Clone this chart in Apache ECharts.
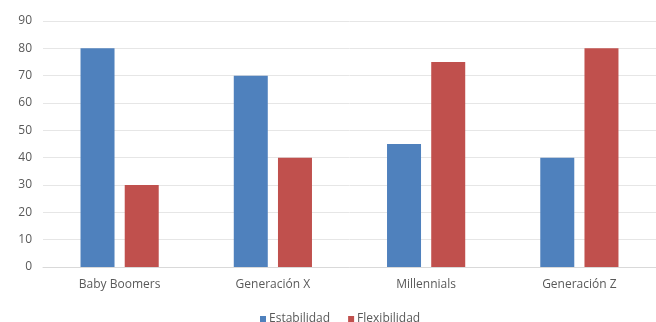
<!DOCTYPE html>
<html>
<head>
<meta charset="utf-8">
<script src="https://cdn.jsdelivr.net/npm/echarts@6/dist/echarts.min.js"></script>
<style>html,body{margin:0;padding:0;background:#fff}#c{width:656px;height:322px}</style>
</head>
<body>
<div id="c"></div>
<script>
const categories = ['Baby Boomers', 'Generación X', 'Millennials', 'Generación Z'];
const estabilidad = [80, 70, 45, 40];
const flexibilidad = [30, 40, 75, 80];
const seriesNames = ['Estabilidad', 'Flexibilidad'];

const chart = echarts.init(document.getElementById('c'), null, {renderer: 'canvas'});
chart.setOption({
  animation: false,
  textStyle: {fontFamily: 'Open Sans'},
  grid: {left: 43, right: 0, top: 21, bottom: 55, containLabel: false},
  legend: {
    data: seriesNames,
    left: 255,
    top: 308,
    itemWidth: 6,
    itemHeight: 6,
    itemGap: 18,
    icon: 'rect',
    textStyle: {fontSize: 12, color: '#595959', fontFamily: 'Open Sans', padding: [0, 0, 0, -2]}
  },
  xAxis: {
    type: 'category',
    data: categories,
    axisTick: {show: false},
    axisLine: {lineStyle: {color: '#d9d9d9'}},
    axisLabel: {color: '#595959', fontSize: 12, margin: 12}
  },
  yAxis: {
    type: 'value',
    min: 0,
    max: 90,
    interval: 10,
    axisLabel: {color: '#595959', fontSize: 12, margin: 11},
    splitLine: {lineStyle: {color: '#e6e6e6'}},
    axisLine: {show: false},
    axisTick: {show: false}
  },
  series: [
    {name: seriesNames[0], type: 'bar', data: estabilidad, barWidth: 34, barGap: '30%',
     itemStyle: {color: '#4f81bd'}},
    {name: seriesNames[1], type: 'bar', data: flexibilidad, barWidth: 34, barGap: '30%',
     itemStyle: {color: '#c0504d'}}
  ]
});
</script>
</body>
</html>
